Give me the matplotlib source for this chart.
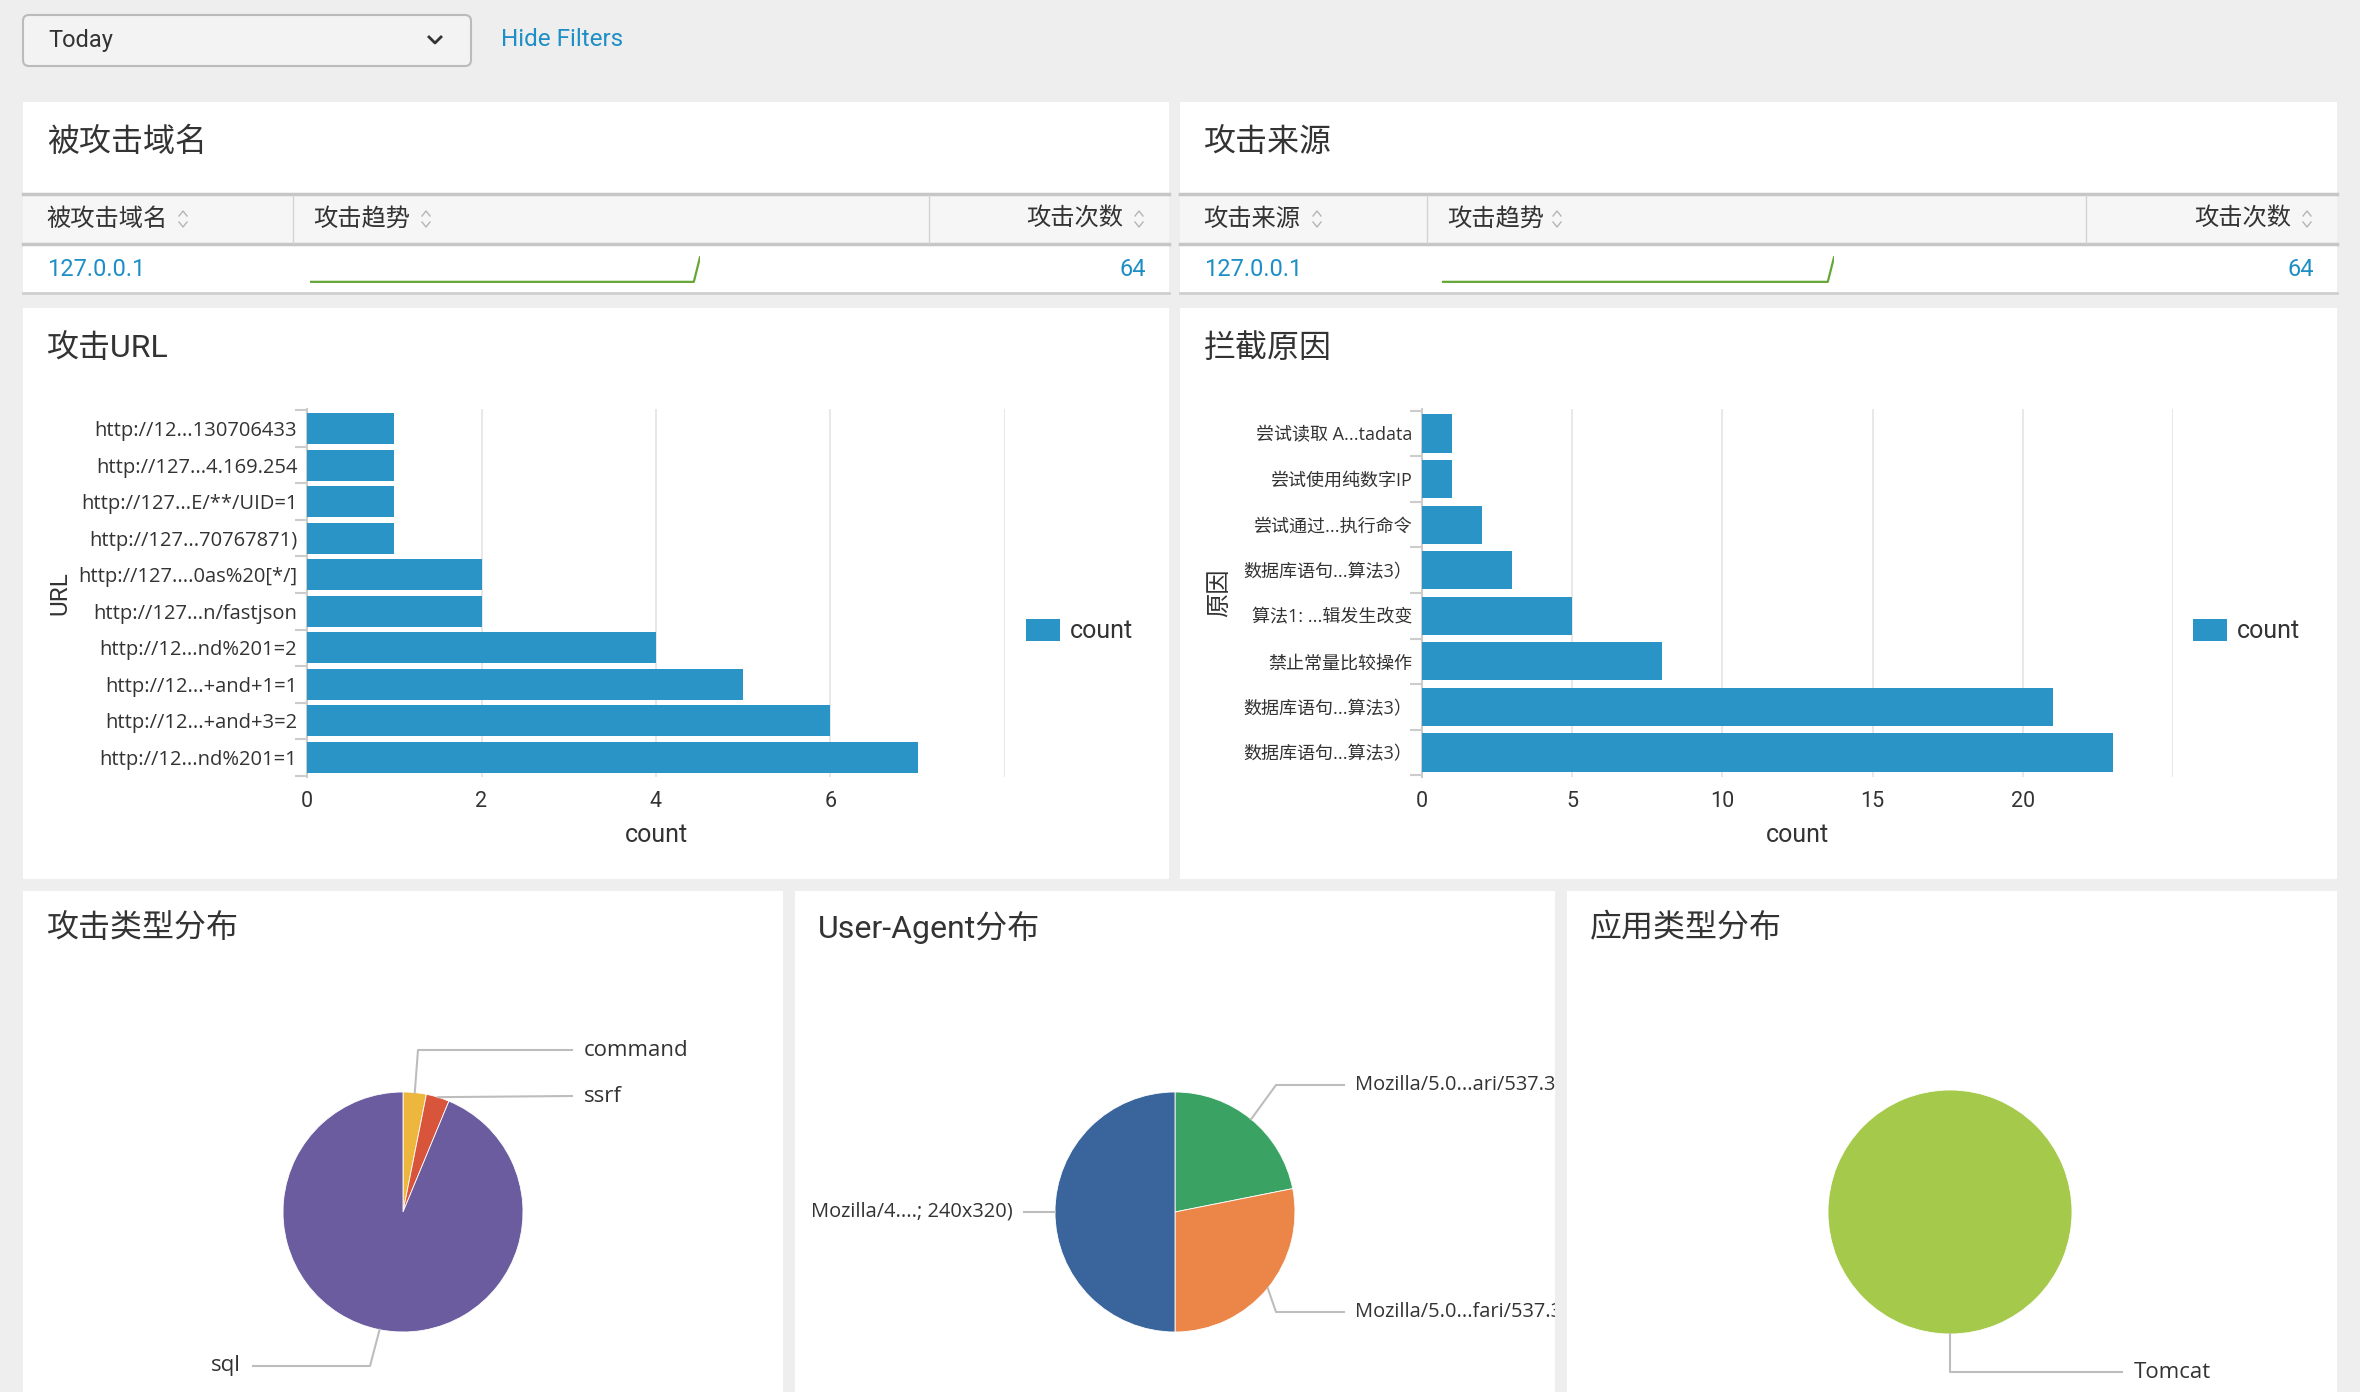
import numpy as np
import matplotlib
matplotlib.use("Agg")
import matplotlib.pyplot as plt
from matplotlib.patches import Rectangle, FancyBboxPatch

plt.rcParams['font.family'] = ['Roboto', 'Noto Sans CJK SC', 'DejaVu Sans']
WIDE = ['Open Sans', 'Noto Sans CJK SC', 'DejaVu Sans']

# data
url_labels = ["http://12...130706433", "http://127...4.169.254", "http://127...E/**/UID=1",
              "http://127...70767871)", "http://127....0as%20[*/]", "http://127...n/fastjson",
              "http://12...nd%201=2", "http://12...+and+1=1", "http://12...+and+3=2",
              "http://12...nd%201=1"]
url_counts = [1, 1, 1, 1, 2, 2, 4, 5, 6, 7]

reason_labels = ["尝试读取 A...tadata", "尝试使用纯数字IP", "尝试通过...执行命令", "数据库语句...算法3）",
                 "算法1: ...辑发生改变", "禁止常量比较操作", "数据库语句...算法3）", "数据库语句...算法3）"]
reason_counts = [1, 1, 2, 3, 5, 8, 21, 23]

attack_types = ["command", "ssrf", "sql"]
attack_type_counts = [2, 2, 60]

ua_labels = ["Mozilla/5.0...ari/537.36", "Mozilla/5.0...fari/537.36", "Mozilla/4....; 240x320)"]
ua_counts = [14, 18, 32]

app_labels = ["Tomcat"]
app_counts = [64]

host_name = "127.0.0.1"
host_total = 64
src_name = "127.0.0.1"
src_total = 64
trend = [0, 0, 0, 0, 0, 0, 0, 0, 0, 0, 0, 0, 0, 0, 0, 0,
         0, 0, 0, 0, 0, 0, 0, 0, 0, 0, 0, 0, 0, 0, 0, 0,
         0, 0, 0, 0, 0, 0, 0, 0, 0, 0, 0, 0, 0, 0, 0, 0,
         0, 0, 0, 0, 0, 0, 0, 0, 0, 0, 0, 0, 0, 0, 0, 64]

W, H = 2360, 1392
BLUE = '#2A94C6'
LINK = '#1E8FC6'
TXT = '#333333'
GRID = '#E4E4E4'


def px_rect(x0, y0, x1, y1):
    return [x0 / W, 1 - y1 / H, (x1 - x0) / W, (y1 - y0) / H]


fig = plt.figure(figsize=(23.6, 13.92), dpi=100)
fig.patch.set_facecolor('#EEEEEE')
bg = fig.add_axes([0, 0, 1, 1])
bg.set_xlim(0, W)
bg.set_ylim(H, 0)
bg.axis('off')


def panel(x0, y0, x1, y1):
    bg.add_patch(Rectangle((x0, y0), x1 - x0, y1 - y0, fc='white', ec='none'))


def sort_icon(x, y):
    bg.plot([x - 4, x, x + 4], [y - 3, y - 8, y - 3], color='#B5B5B5', lw=1)
    bg.plot([x - 4, x, x + 4], [y + 3, y + 8, y + 3], color='#B5B5B5', lw=1)


# filter bar
bg.add_patch(FancyBboxPatch((23, 15), 448, 51, boxstyle='round,pad=0,rounding_size=6',
                            fc='#F3F3F3', ec='#BBBBBB', lw=1.5))
bg.text(48, 41, 'Today', fontsize=17, color=TXT, va='center')
bg.plot([429, 435, 441], [37, 43, 37], color=TXT, lw=2)
bg.text(501, 39, 'Hide Filters', fontsize=17.5, color=LINK, va='center')

# panels
panel(23, 102, 1169, 293)
panel(1180, 102, 2337, 293)
panel(23, 308, 1169, 879)
panel(1180, 308, 2337, 879)
panel(23, 891, 783, 1392)
panel(795, 891, 1555, 1392)
panel(1567, 891, 2337, 1392)

for tx, ty, title in [(47, 142, '被攻击域名'), (1204, 142, '攻击来源'), (47, 348, '攻击URL'),
                      (1204, 348, '拦截原因'), (47, 928, '攻击类型分布'),
                      (818, 928, 'User-Agent分布'), (1590, 928, '应用类型分布')]:
    bg.text(tx, ty, title, fontsize=23, color=TXT, va='center')


# tables
def table(x0, x1, c1, c2, h1, name, total, icons):
    bg.add_patch(Rectangle((x0, 194), x1 - x0, 50, fc='#F6F6F6', ec='none'))
    bg.plot([x0, x1], [194, 194], color='#C6C6C6', lw=2.5)
    bg.plot([x0, x1], [244, 244], color='#C6C6C6', lw=2.5)
    bg.plot([x0, x1], [293, 293], color='#CFCFCF', lw=2)
    bg.plot([c1, c1], [195, 243], color='#D3D3D3', lw=1)
    bg.plot([c2, c2], [195, 243], color='#D3D3D3', lw=1)
    bg.text(x0 + 23, 219, h1, fontsize=17.5, color=TXT, va='center')
    bg.text(c1 + 20, 219, '攻击趋势', fontsize=17.5, color=TXT, va='center')
    bg.text(x1 - 46, 219, '攻击次数', fontsize=17.5, color=TXT, va='center', ha='right')
    for ix in icons:
        sort_icon(ix, 219)
    sort_icon(x1 - 30, 219)
    bg.text(x0 + 24, 270, name, fontsize=17, color=LINK, va='center')
    bg.text(x1 - 23, 270, str(total), fontsize=17, color=LINK, va='center', ha='right')


table(23, 1169, 293, 929, '被攻击域名', host_name, host_total, [183, 426])
table(1180, 2337, 1427, 2086, '攻击来源', src_name, src_total, [1317, 1557])

for sx0, sx1 in [(310, 700), (1442, 1834)]:
    sp = fig.add_axes(px_rect(sx0, 255, sx1, 283))
    sp.plot(range(len(trend)), trend, color='#65A637', lw=1.6)
    sp.set_xlim(0, len(trend) - 1)
    sp.set_ylim(-3, 70)
    sp.axis('off')


# bar charts
def bar_chart(rect, labels, counts, xmax, step, ylab, ylab_x, leg_x, tick_fs):
    ax = fig.add_axes(px_rect(*rect))
    n = len(labels)
    bars = ax.barh(range(n), counts, height=0.84, color=BLUE, label='count', zorder=3)
    ax.set_ylim(n - 0.46, -0.54)
    ax.set_xlim(0, xmax)
    ticks = list(range(0, xmax + 1, step))
    ax.set_xticks(ticks)
    ax.set_xticklabels([str(t) for t in ticks[:-1]] + [''])
    ax.set_yticks(range(n))
    ax.set_yticklabels(labels, family=WIDE)
    ax.set_yticks(np.arange(-0.5, n, 1.0), minor=True)
    ax.tick_params(axis='x', length=0, pad=10, labelsize=15.5, labelcolor=TXT)
    ax.tick_params(axis='y', which='major', length=0, pad=7, labelsize=tick_fs, labelcolor=TXT)
    ax.tick_params(axis='y', which='minor', length=9, color='#CCCCCC', width=1.5)
    ax.grid(axis='x', color=GRID, lw=1.2, zorder=0)
    for s in ['top', 'right', 'bottom']:
        ax.spines[s].set_visible(False)
    ax.spines['left'].set_color('#CCCCCC')
    ax.spines['left'].set_linewidth(1.5)
    ax.set_xlabel('count', fontsize=18, color=TXT)
    ax.xaxis.set_label_coords(0.5, -0.158)
    ax.xaxis.label.set_va('center')
    ax.set_ylabel(ylab, fontsize=17.5, color=TXT)
    ax.yaxis.set_label_coords(ylab_x, 0.5)
    ax.yaxis.label.set_va('center')
    ax.legend(handles=[bars], loc='center left', bbox_to_anchor=(leg_x, 0.397),
              borderaxespad=0, borderpad=0, handlelength=1.35, handleheight=1.0,
              handletextpad=0.4, frameon=False, fontsize=18, labelcolor=TXT)
    return ax


bar_chart((307, 409, 1005, 777), url_labels, url_counts, 8, 2, 'URL', -0.354, 1.03, 14.5)
bar_chart((1422, 409, 2173, 777), reason_labels, reason_counts, 25, 5, '原因', -0.27, 1.027, 13)


# pies
def pie_chart(rect, cx, cy, r, values, colors):
    x0, y0, x1, y1 = rect
    ax = fig.add_axes(px_rect(x0, y0, x1, y1))
    ax.pie(values, colors=colors, startangle=90, counterclock=False, radius=r,
           wedgeprops=dict(lw=0.6, ec='white'))
    ax.set_xlim(x0 - cx, x1 - cx)
    ax.set_ylim(cy - y1, cy - y0)
    ax.set_aspect('equal')
    ax.axis('off')
    mids = []
    cum = 0
    tot = sum(values)
    for v in values:
        a = np.deg2rad(90 - (cum + v / 2) / tot * 360)
        mids.append((r * np.cos(a), r * np.sin(a)))
        cum += v
    return ax, mids


def leader(ax, pts, label, tx, ha, fs):
    xs, ys = zip(*pts)
    ax.plot(xs, ys, color='#BDBDBD', lw=1.5, clip_on=True)
    ax.text(tx, pts[-1][1], label, fontsize=fs, color=TXT, ha=ha, va='center',
            family=WIDE, clip_on=True)


ax5, m5 = pie_chart((23, 960, 783, 1392), 403, 1212, 120, attack_type_counts,
                    ['#ECB73C', '#D8553B', '#6A5C9E'])
leader(ax5, [m5[0], (15, 162), (169, 162)], attack_types[0], 181, 'left', 16)
leader(ax5, [m5[1], (169, 116)], attack_types[1], 181, 'left', 16)
leader(ax5, [m5[2], (-33, -154), (-150, -154)], attack_types[2], -162, 'right', 16)

ax6, m6 = pie_chart((795, 960, 1555, 1392), 1175, 1212, 120, ua_counts,
                    ['#3AA363', '#EB8548', '#3A649C'])
leader(ax6, [m6[0], (101, 127), (169, 127)], ua_labels[0], 180, 'left', 14.4)
leader(ax6, [m6[1], (101, -100), (169, -100)], ua_labels[1], 180, 'left', 14.4)
leader(ax6, [m6[2], (-151, 0)], ua_labels[2], -162, 'right', 14.4)

ax7, m7 = pie_chart((1567, 960, 2337, 1392), 1950, 1212, 122, app_counts, ['#A5C94B'])
leader(ax7, [m7[0], (0, -160), (172, -160)], app_labels[0], 184, 'left', 16)

fig.savefig('out.png', dpi=100, facecolor=fig.get_facecolor())
